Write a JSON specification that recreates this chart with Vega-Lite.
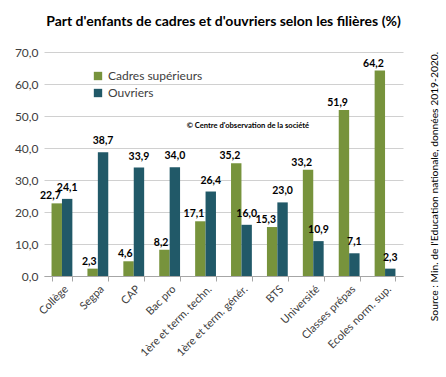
{
  "$schema": "https://vega.github.io/schema/vega-lite/v6.json",
  "width": 359,
  "height": 224,
  "autosize": "none",
  "padding": {"left": 44, "top": 52, "right": 43, "bottom": 101},
  "title": {"text": "Part d'enfants de cadres et d'ouvriers selon les filières (%)", "font": "Lato", "fontSize": 14, "fontWeight": "bold", "color": "#000000", "anchor": "middle", "offset": 17},
  "config": {
    "view": {"stroke": null},
    "font": "Lato",
    "locale": {"number": {"decimal": ",", "thousands": " ", "grouping": [3], "currency": ["", " €"]}}
  },
  "data": {"values": [
    {"filiere": "Collège", "groupe": "Cadres supérieurs", "valeur": 22.7},
    {"filiere": "Collège", "groupe": "Ouvriers", "valeur": 24.1},
    {"filiere": "Segpa", "groupe": "Cadres supérieurs", "valeur": 2.3},
    {"filiere": "Segpa", "groupe": "Ouvriers", "valeur": 38.7},
    {"filiere": "CAP", "groupe": "Cadres supérieurs", "valeur": 4.6},
    {"filiere": "CAP", "groupe": "Ouvriers", "valeur": 33.9},
    {"filiere": "Bac pro", "groupe": "Cadres supérieurs", "valeur": 8.2},
    {"filiere": "Bac pro", "groupe": "Ouvriers", "valeur": 34.0},
    {"filiere": "1ère et term. techn.", "groupe": "Cadres supérieurs", "valeur": 17.1},
    {"filiere": "1ère et term. techn.", "groupe": "Ouvriers", "valeur": 26.4},
    {"filiere": "1ère et term. génér.", "groupe": "Cadres supérieurs", "valeur": 35.2},
    {"filiere": "1ère et term. génér.", "groupe": "Ouvriers", "valeur": 16.0},
    {"filiere": "BTS", "groupe": "Cadres supérieurs", "valeur": 15.3},
    {"filiere": "BTS", "groupe": "Ouvriers", "valeur": 23.0},
    {"filiere": "Université", "groupe": "Cadres supérieurs", "valeur": 33.2},
    {"filiere": "Université", "groupe": "Ouvriers", "valeur": 10.9},
    {"filiere": "Classes prépas", "groupe": "Cadres supérieurs", "valeur": 51.9},
    {"filiere": "Classes prépas", "groupe": "Ouvriers", "valeur": 7.1},
    {"filiere": "Ecoles norm. sup.", "groupe": "Cadres supérieurs", "valeur": 64.2},
    {"filiere": "Ecoles norm. sup.", "groupe": "Ouvriers", "valeur": 2.3}
  ]},
  "encoding": {
    "x": {
      "field": "filiere", "type": "nominal",
      "sort": ["Collège", "Segpa", "CAP", "Bac pro", "1ère et term. techn.", "1ère et term. génér.", "BTS", "Université", "Classes prépas", "Ecoles norm. sup."],
      "scale": {"paddingInner": 0.42, "paddingOuter": 0.21},
      "axis": {"title": null, "labelAngle": -45, "labelAlign": "right", "labelBaseline": "top", "labelFontSize": 11, "labelColor": "#404040", "labelPadding": 2, "tickBand": "extent", "tickSize": 5, "tickColor": "#a6a6a6", "domainColor": "#a6a6a6", "grid": false}
    },
    "y": {
      "field": "valeur", "type": "quantitative",
      "scale": {"domain": [0, 70]},
      "axis": {"title": null, "values": [0, 10, 20, 30, 40, 50, 60, 70], "format": ".1f", "labelFontSize": 12, "labelColor": "#404040", "labelPadding": 6, "domain": false, "ticks": false, "grid": true, "gridColor": "#d0d0d0"}
    }
  },
  "layer": [
    {
      "mark": {"type": "bar"},
      "encoding": {
        "xOffset": {"field": "groupe", "type": "nominal", "sort": ["Cadres supérieurs", "Ouvriers"]},
        "color": {
          "field": "groupe", "type": "nominal",
          "scale": {"domain": ["Cadres supérieurs", "Ouvriers"], "range": ["#77933C", "#215968"]},
          "legend": {"title": null, "orient": "none", "legendX": 48, "legendY": 18, "symbolType": "square", "symbolSize": 70, "symbolStrokeWidth": 0, "labelFontSize": 12, "labelColor": "#404040", "rowPadding": 5, "labelOffset": 4}
        }
      }
    },
    {
      "transform": [{"filter": "datum.groupe === 'Cadres supérieurs'"}],
      "mark": {"type": "text", "align": "right", "baseline": "alphabetic", "dx": 4, "dy": -4, "fontWeight": "bold", "fontSize": 10.5, "color": "#000000"},
      "encoding": {
        "xOffset": {"field": "groupe", "type": "nominal", "sort": ["Cadres supérieurs", "Ouvriers"], "scale": {"domain": ["Cadres supérieurs", "Ouvriers"]}},
        "text": {"field": "valeur", "type": "quantitative", "format": ".1f"},
        "y": {"field": "valeur", "type": "quantitative", "axis": null}
      }
    },
    {
      "transform": [{"filter": "datum.groupe === 'Ouvriers'"}],
      "mark": {"type": "text", "align": "center", "baseline": "alphabetic", "dy": -8, "fontWeight": "bold", "fontSize": 10.5, "color": "#000000"},
      "encoding": {
        "xOffset": {"field": "groupe", "type": "nominal", "sort": ["Cadres supérieurs", "Ouvriers"], "scale": {"domain": ["Cadres supérieurs", "Ouvriers"]}},
        "text": {"field": "valeur", "type": "quantitative", "format": ".1f"},
        "y": {"field": "valeur", "type": "quantitative", "axis": {"orient": "right", "title": "Source : Min. de l'Education nationale, données 2019-2020.", "titleAngle": 270, "titleFontSize": 10.3, "titleFontWeight": "normal", "titleColor": "#000000", "titleX": 31, "titleY": 134, "titleAlign": "center", "titleBaseline": "middle", "labels": false, "ticks": false, "domain": false, "grid": false}}
      }
    },
    {
      "transform": [{"filter": "datum.filiere === 'Bac pro' && datum.groupe === 'Ouvriers'"}],
      "mark": {"type": "text", "align": "left", "dx": 17, "fontWeight": "bold", "fontSize": 7.6, "color": "#000000"},
      "encoding": {
        "y": {"datum": 46.8, "type": "quantitative", "axis": null},
        "text": {"value": "© Centre d'observation de la société"}
      }
    }
  ],
  "resolve": {"axis": {"y": "independent"}}
}
